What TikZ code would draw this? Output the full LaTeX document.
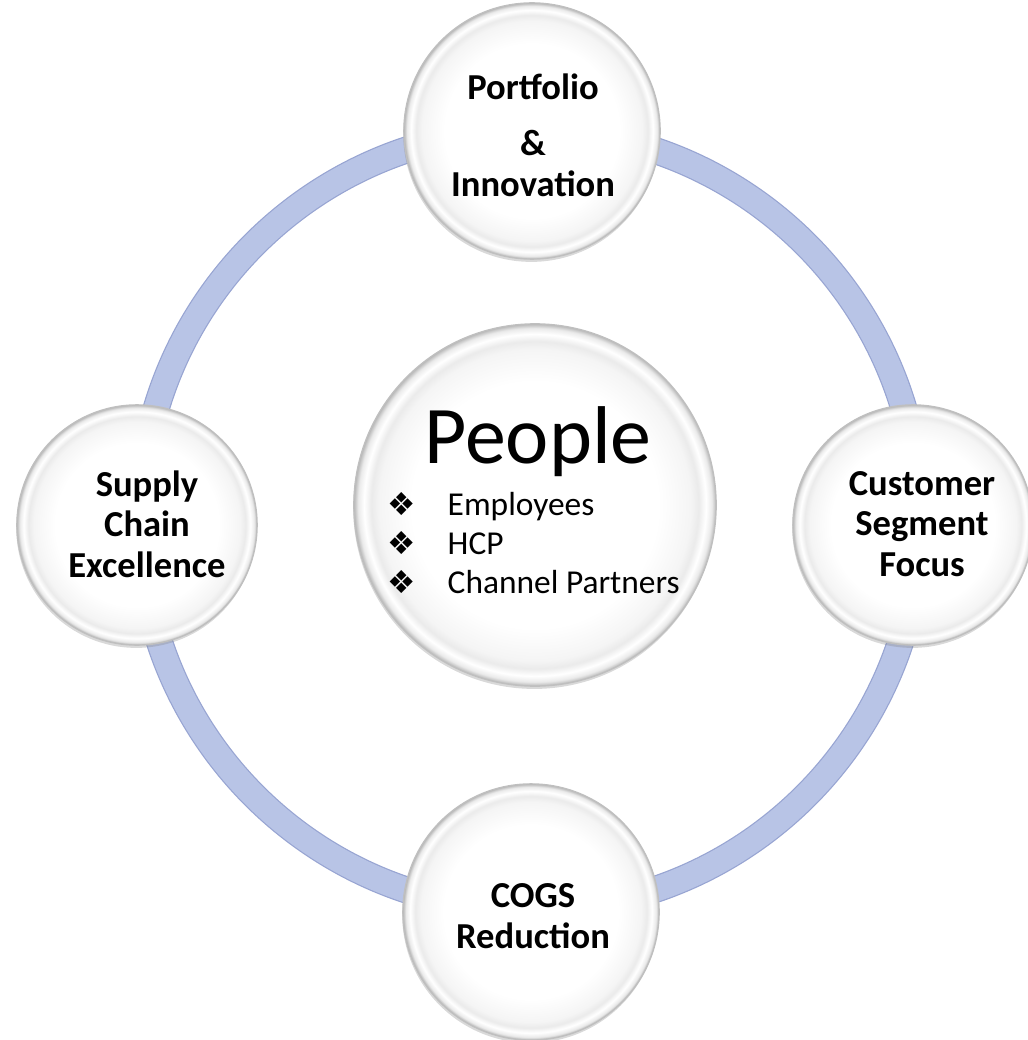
\documentclass[tikz,border=0pt]{standalone}
\usepackage{fontspec}
\setmainfont{Carlito}
\newfontfamily\symfont{DejaVu Sans}
\usetikzlibrary{shadows,calc}

\definecolor{ringblue}{RGB}{184,196,230}
\definecolor{ringedge}{RGB}{152,165,210}

% white face, bright bevel band and grey rim (25bp = edge of the circle)
\pgfdeclareradialshading{bevel}{\pgfpoint{0bp}{0bp}}{%
  color(0bp)=(white); color(17bp)=(white); color(21.5bp)=(black!4);
  color(22.6bp)=(black!8); color(23.6bp)=(white); color(24.4bp)=(black!8);
  color(25bp)=(black!28); color(50bp)=(black!28)}

\newcommand{\dims}{
\def\rring{390}   % ring radius (px)
\def\wring{7pt}   % ring band width
}

\tikzset{
  bubble/.style={circle, inner sep=0pt, shading=bevel, draw=black!25, line width=0.4pt,
    drop shadow={shadow xshift=-0.2pt, shadow yshift=-0.8pt, opacity=0.3}},
  satbig/.style={bubble, minimum size=2.56cm},
  satsmall/.style={bubble, minimum size=2.40cm},
  hub/.style={bubble, minimum size=3.62cm},
  satlabel/.style={align=center, inner sep=0pt, font=\fontsize{10.4}{11.5}\selectfont\bfseries},
  hubtitle/.style={inner sep=0pt, font=\fontsize{23.3}{28}\selectfont},
  hublist/.style={inner sep=0pt, font=\fontsize{9.5}{11}\selectfont},
}

\begin{document}
\begin{tikzpicture}[x=0.01cm,y=-0.01cm]
      \dims
      \useasboundingbox (0,0) rectangle (1028,1040);
%
      \coordinate (mid) at (530,520);
      \draw[ringedge, line width=\wring+0.7pt] (mid) circle [radius=\rring];
      \draw[ringblue, line width=\wring] (mid) circle [radius=\rring];
%
      \node[satbig]   (portfolio) at (532,131) {};
      \node[satsmall] (supply)    at (137,525) {};
      \node[satsmall] (customer)  at (913,525) {};
      \node[satbig]   (cogs)      at (531,912) {};
      \node[hub]      (people)    at (535,505) {};
%
      \node[satlabel] (portfoliotext) at ($(portfolio)+(1,4)$)  {Portfolio\\[4.6pt]\&\\Innovation};
      \node[satlabel] (supplytext)    at ($(supply)+(10,-1)$)   {Supply\\Chain\\Excellence};
      \node[satlabel] (customertext)  at ($(customer)+(9,-1)$)  {Customer\\Segment\\Focus};
      \node[satlabel] (cogstext)      at ($(cogs)+(2,4)$)       {COGS\\Reduction};
%
      \node[hubtitle, anchor=base] (peopletitle) at (538,463) {People};
      \node[hublist, anchor=north west] (peoplelist) at (387,488) {%
        \begin{tabular}{@{}l@{\hspace{9pt}}l@{}}
          {\symfont\small ❖} & Employees\\
          {\symfont\small ❖} & HCP\\
          {\symfont\small ❖} & Channel Partners
        \end{tabular}};
    \end{tikzpicture}
\end{document}
